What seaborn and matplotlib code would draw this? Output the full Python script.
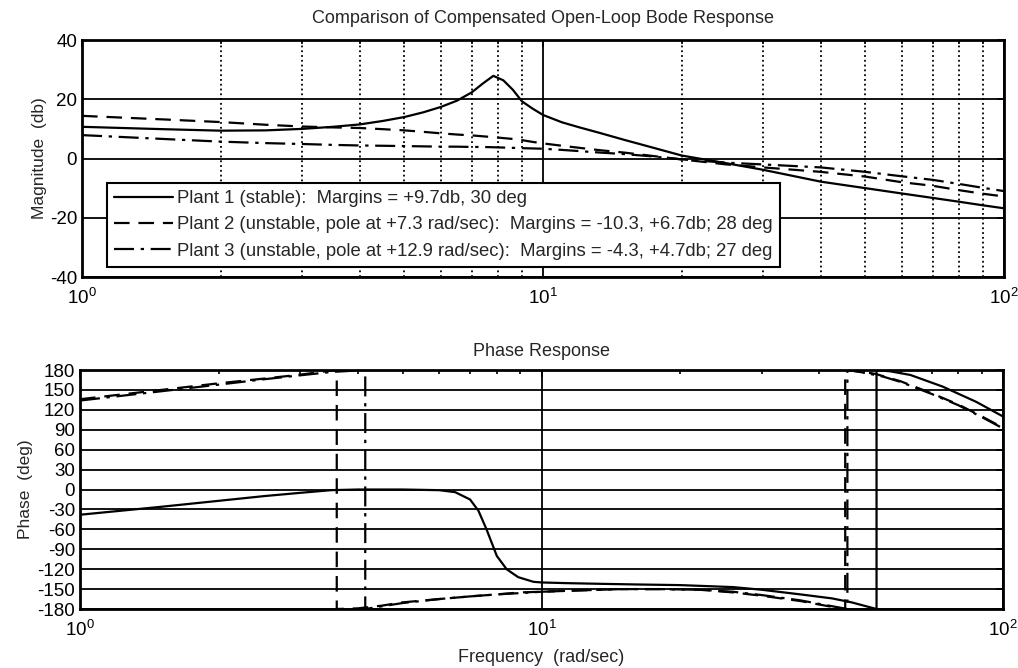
import numpy as np
import pandas as pd
import seaborn as sns
import matplotlib
matplotlib.use('Agg')
import matplotlib.pyplot as plt

# magnitude data (db)
mag_freq = [1, 1.5, 2, 2.5, 3, 3.5, 4, 4.5, 5, 5.5, 6, 6.5, 7, 7.4, 7.8, 8.2, 8.6, 9, 9.5,
            10, 11, 12, 13.3, 15, 17, 20, 25, 30, 40, 50, 60, 70, 80, 90, 100]
mag_plant1 = [10.7, 9.9, 9.4, 9.5, 10.0, 10.7, 11.5, 12.7, 14.0, 15.6, 17.4, 19.5, 22.3, 25.3, 27.9,
              26.4, 23.2, 19.3, 16.8, 14.7, 12.2, 10.5, 8.6, 6.3, 4.0, 1.0, -1.6, -3.8, -7.8, -10.0,
              -11.8, -13.3, -14.6, -15.8, -16.8]
mag_plant2 = [14.4, 13.2, 12.3, 11.4, 10.8, 10.5, 10.3, 9.9, 9.5, 9.0, 8.5, 8.1, 7.8, 7.5, 7.2,
              6.9, 6.6, 6.2, 5.6, 5.1, 4.3, 3.6, 2.8, 2.0, 1.0, -0.3, -2.0, -3.0, -4.5, -6.1,
              -8.0, -9.2, -10.7, -11.9, -12.8]
mag_plant3 = [7.9, 6.6, 5.7, 5.2, 4.9, 4.6, 4.4, 4.3, 4.2, 4.1, 4.0, 4.0, 3.9, 3.9, 3.8,
              3.7, 3.6, 3.5, 3.4, 3.3, 2.9, 2.5, 2.0, 1.5, 0.8, -0.3, -1.4, -2.0, -3.0, -4.5,
              -6.0, -7.2, -8.6, -9.9, -11.0]

# phase data (deg), wrapped at +/-180 like the original
ph1_freq = [1, 1.5, 2, 2.5, 3, 3.5, 4, 5, 6, 6.5, 7, 7.3, 7.6, 8.0, 8.4, 8.9, 9.6, 10, 11.3, 13.3,
            16, 20, 26, 30, 36.4, 42.6, 47, 50.6, 53.2, 53.2, 57, 63, 74, 87.5, 100]
ph1_val = [-38, -26, -17, -10, -5, -1, 0, 0, -1, -4, -15, -32, -60, -100, -120, -132, -139, -140,
           -141, -142, -143, -144, -147, -151, -158, -164, -170, -176, -180, 180, 178, 172.5, 155,
           132, 110]
ph2_freq = [1, 1.5, 2, 2.5, 3, 3.4, 3.6, 3.6, 4, 4.5, 5, 6, 7, 8, 9, 10, 12, 15, 18, 22, 26, 30,
            36.4, 42, 45.5, 45.5, 50, 53, 60, 70, 80, 90, 100]
ph2_val = [136, 150, 160, 167, 173, 178, 180, -180, -179, -175, -170, -165, -161, -158, -155, -154,
           -152, -150, -150, -151, -155, -160, -168, -176, -180, 180, 177, 174, 163, 145, 128, 110, 93]
ph3_freq = [1, 1.5, 2, 2.5, 3, 3.5, 4.15, 4.15, 4.5, 5, 6, 7, 8, 9, 10, 12, 15, 18, 22, 26, 30,
            36.4, 42, 46, 46, 50, 55, 60, 70, 80, 90, 100]
ph3_val = [134, 148, 158, 166, 172, 177, 180, -180, -176, -171, -165, -161, -158, -156, -154, -152,
           -150, -150, -151, -154, -159, -167, -175, -180, 180, 176, 170, 162, 144, 127, 109, 92]

labels = ['Plant 1 (stable):  Margins = +9.7db, 30 deg',
          'Plant 2 (unstable, pole at +7.3 rad/sec):  Margins = -10.3, +6.7db; 28 deg',
          'Plant 3 (unstable, pole at +12.9 rad/sec):  Margins = -4.3, +4.7db; 27 deg']

sns.set_theme(style='white')
plt.rcParams['font.family'] = ['Liberation Sans', 'DejaVu Sans']
plt.rcParams['mathtext.fontset'] = 'custom'
plt.rcParams['mathtext.rm'] = 'Liberation Sans'
plt.rcParams['mathtext.it'] = 'Liberation Sans'
plt.rcParams['axes.unicode_minus'] = False

styles = ['-', (0, (7, 4)), (0, (9, 3, 1.5, 3))]

fig = plt.figure(figsize=(10.18, 6.68), dpi=100)
ax1 = fig.add_axes([0.0806, 0.5853, 0.9057, 0.3548])
ax2 = fig.add_axes([0.0786, 0.0883, 0.9067, 0.3578])

for ax in (ax1, ax2):
    ax.set_xscale('log')

for vals, ls, lab in zip([mag_plant1, mag_plant2, mag_plant3], styles, labels):
    sns.lineplot(x=mag_freq, y=vals, ax=ax1, color='black', linestyle=ls, linewidth=1.6,
                 estimator=None, sort=False, label=lab)

for fr, vals, ls in zip([ph1_freq, ph2_freq, ph3_freq], [ph1_val, ph2_val, ph3_val], styles):
    sns.lineplot(x=fr, y=vals, ax=ax2, color='black', linestyle=ls, linewidth=1.6,
                 estimator=None, sort=False)

ax1.set_xlim(1, 100)
ax1.set_ylim(-40, 40)
ax1.set_yticks([-40, -20, 0, 20, 40])
ax2.set_xlim(1, 100)
ax2.set_ylim(-180, 180)
ax2.set_yticks(np.arange(-180, 181, 30))

ax1.grid(which='major', axis='both', color='black', linestyle='-', linewidth=1.3)
ax1.grid(which='minor', axis='x', color='black', linestyle=':', linewidth=1.3)
ax2.grid(which='major', axis='both', color='black', linestyle='-', linewidth=1.3)

for ax in (ax1, ax2):
    ax.set_axisbelow(True)
    for sp in ax.spines.values():
        sp.set_color('black')
        sp.set_linewidth(2)
    ax.tick_params(which='both', direction='in', top=True, right=True, colors='black',
                   labelsize=13.5, width=1.2)
    ax.tick_params(which='major', length=5)
    ax.tick_params(which='minor', length=3)
    ax.tick_params(axis='x', pad=8)

ax1.set_title('Comparison of Compensated Open-Loop Bode Response', fontsize=13, pad=12)
ax1.set_ylabel('Magnitude  (db)', fontsize=12.5, labelpad=2)
ax1.set_xlabel('')
ax2.set_title('Phase Response', fontsize=13, pad=10)
ax2.set_ylabel('Phase  (deg)', fontsize=12.5, labelpad=3)
ax2.set_xlabel('Frequency  (rad/sec)', fontsize=13, labelpad=6)

leg = ax1.legend(loc='lower left', bbox_to_anchor=(0.027, 0.042), borderaxespad=0,
                 fontsize=13.3, frameon=True, fancybox=False, handlelength=3.2,
                 handletextpad=0.2, labelspacing=0.5, borderpad=0.4)
leg.get_frame().set_edgecolor('black')
leg.get_frame().set_linewidth(1.5)
leg.get_frame().set_alpha(1)

fig.savefig('out.png', dpi=100, facecolor='white')
